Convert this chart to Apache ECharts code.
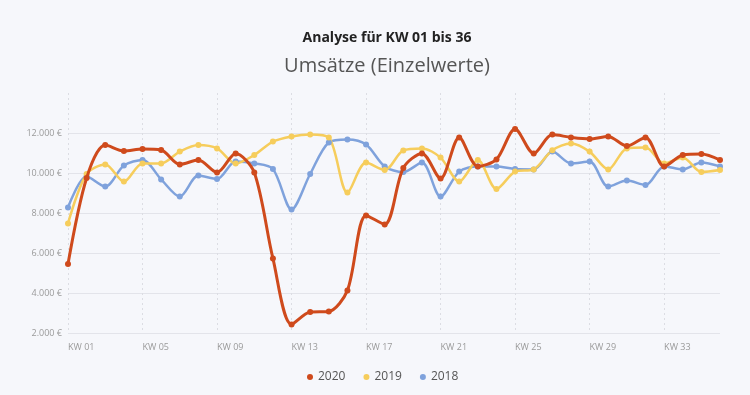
<!DOCTYPE html>
<html><head><meta charset="utf-8">
<script src="https://cdn.jsdelivr.net/npm/echarts@6/dist/echarts.min.js"></script>
<style>html,body{margin:0;padding:0;background:#f6f7fb;}#c{width:750px;height:395px;}</style>
</head><body><div id="c"></div>
<script>
const categories = ['KW 01','KW 02','KW 03','KW 04','KW 05','KW 06','KW 07','KW 08','KW 09','KW 10','KW 11','KW 12','KW 13','KW 14','KW 15','KW 16','KW 17','KW 18','KW 19','KW 20','KW 21','KW 22','KW 23','KW 24','KW 25','KW 26','KW 27','KW 28','KW 29','KW 30','KW 31','KW 32','KW 33','KW 34','KW 35','KW 36'];
const s2020 = [5450,9750,11400,11100,11200,11150,10430,10650,10030,10980,10020,5730,2430,3050,3080,4130,7880,7430,10250,10980,9720,11780,10330,10680,12200,10980,11920,11780,11700,11830,11350,11780,10330,10900,10950,10650];
const s2019 = [7480,9950,10430,9570,10480,10480,11070,11400,11230,10480,10900,11570,11830,11930,11780,9020,10520,10150,11130,11230,10770,9570,10650,9200,10070,10180,11140,11480,11070,10180,11230,11270,10480,10780,10050,10150];
const s2018 = [8280,9820,9320,10370,10650,9680,8820,9870,9700,10570,10480,10200,8180,9950,11530,11680,11430,10330,10050,10520,8820,10070,10330,10330,10200,10180,11070,10480,10570,9320,9620,9400,10330,10180,10530,10330];
const legendNames = ['2020','2019','2018'];
const yTicks = {min:2000, max:14000, interval:2000};

function fmt(v){ return String(Math.round(v)).replace(/\B(?=(\d{3})+(?!\d))/g,'.') + ' €'; }

const chart = echarts.init(document.getElementById('c'), null, {renderer:'canvas'});
const font = '"Open Sans", sans-serif';
function line(name, data, color, width, z){
  return {name, type:'line', data, smooth:0.3, symbol:'circle', symbolSize:6, z,
    itemStyle:{color}, lineStyle:{color, width}, emphasis:{disabled:true}};
}
chart.setOption({
  backgroundColor:'#f6f7fb',
  animation:false,
  textStyle:{fontFamily:font},
  title:[
    {text:'Analyse für KW 01 bis 36', left:382, top:26, textAlign:'center',
     textStyle:{fontFamily:font, fontSize:14, fontWeight:'bold', color:'#222'}},
    {text:'Umsätze (Einzelwerte)', left:382, top:51, textAlign:'center',
     textStyle:{fontFamily:font, fontSize:20, fontWeight:'normal', color:'#555'}}
  ],
  legend:{data:legendNames, top:366, left:302, icon:'circle', itemWidth:6, itemHeight:6, itemGap:18,
    textStyle:{fontFamily:font, fontSize:12, color:'#555'}},
  grid:{left:68, right:30, top:93, bottom:62},
  xAxis:{type:'category', data:categories, boundaryGap:false,
    axisLine:{show:false}, axisTick:{show:false},
    axisLabel:{interval:3, align:'left', fontSize:9, color:'#9a9a9a', margin:10, fontFamily:font},
    splitLine:{show:true, interval:3, lineStyle:{type:[2,3], color:'#dcdde3'}}},
  yAxis:{type:'value', min:yTicks.min, max:yTicks.max, interval:yTicks.interval,
    axisLine:{show:false}, axisTick:{show:false},
    axisLabel:{formatter:fmt, fontSize:9, color:'#9a9a9a', margin:6, showMaxLabel:false, fontFamily:font},
    splitLine:{show:true, showMaxLine:false, lineStyle:{color:'#e3e4ea'}}},
  series:[
    line('2018', s2018, '#7fa2dc', 2.5, 2),
    line('2019', s2019, '#f6cd5c', 2.5, 2),
    line('2020', s2020, '#cf4a1c', 3, 3)
  ]
});
</script></body></html>
